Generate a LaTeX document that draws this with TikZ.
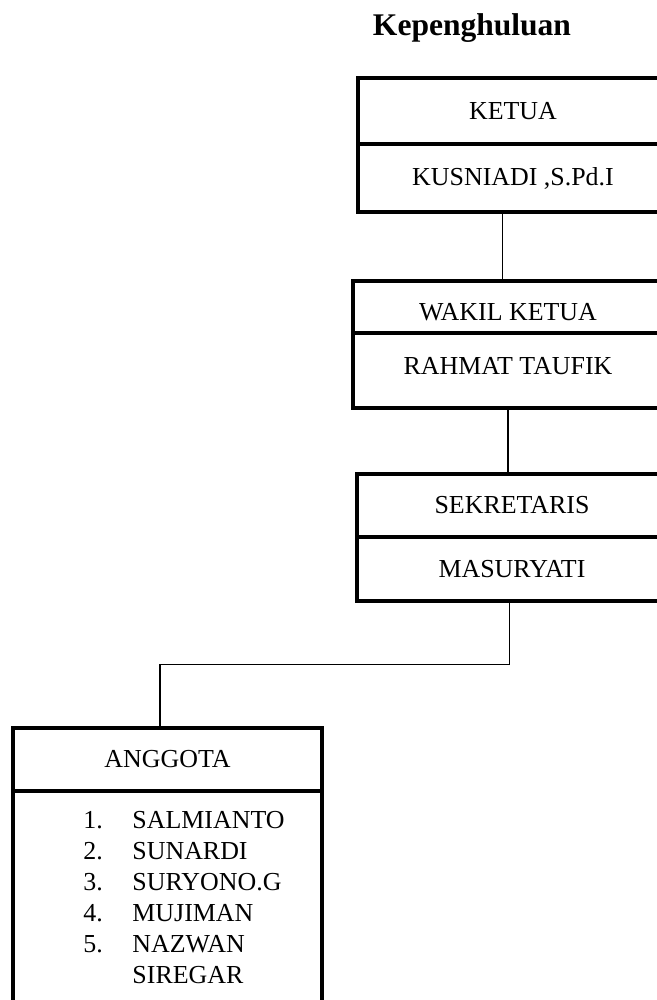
\documentclass[tikz,border=0pt]{standalone}
\usepackage{fontspec}
\setmainfont{Liberation Serif}
\usetikzlibrary{positioning,calc}

\begin{document}
\begin{tikzpicture}[x=0.463pt,y=-0.463pt,every node/.style={font=\fontsize{12}{14.3}\selectfont,align=center},part/.style={draw,line width=1.5pt,minimum width=143.5pt,inner sep=0pt},link/.style={line width=0.6pt}]
\useasboundingbox (0,0) rectangle (657,1000);
\clip (0,0) rectangle (657,1000);
\node[font=\fontsize{14.6}{16}\selectfont\bfseries,anchor=base] (title) at (472,35) {Kepenghuluan};
\node[part,minimum height=30.6pt] (ketua) at (513,111) {KETUA};
\node[part,minimum height=31.5pt] (ketuan) at (513,178) {KUSNIADI ,S.Pd.I};
\node[part,minimum height=24.1pt,text height=12.5pt] (wakil) at (508,307) {WAKIL KETUA};
\node[part,minimum height=34.7pt,text depth=4.6pt] (wakiln) at (508,370.5) {RAHMAT TAUFIK};
\node[part,minimum height=29.2pt] (sekr) at (512,505.5) {SEKRETARIS};
\node[part,minimum height=29.6pt] (sekrn) at (512,569) {MASURYATI};
\node[part,minimum width=143pt,minimum height=29.2pt] (anggota) at (167.5,759.5) {ANGGOTA};
\node[part,minimum width=143pt,minimum height=103.7pt] (anggotan) at (167.5,903) {};
\node[anchor=north west,align=left,inner sep=0pt] (names) at (83,811) {\makebox[22.7pt][l]{1.}SALMIANTO\\\makebox[22.7pt][l]{2.}SUNARDI\\\makebox[22.7pt][l]{3.}SURYONO.G\\\makebox[22.7pt][l]{4.}MUJIMAN\\\makebox[22.7pt][l]{5.}NAZWAN\\\hspace*{22.7pt}SIREGAR};
\draw[link] ([xshift=-5pt]ketuan.south) -- ([xshift=-5pt]ketuan.south |- wakil.north);
\draw[link] (wakiln.south) -- (wakiln.south |- sekr.north);
\draw[link] ([xshift=-1pt]sekrn.south) -- ++(0,62) -| ([xshift=-3.5pt]anggota.north);
\end{tikzpicture}
\end{document}
